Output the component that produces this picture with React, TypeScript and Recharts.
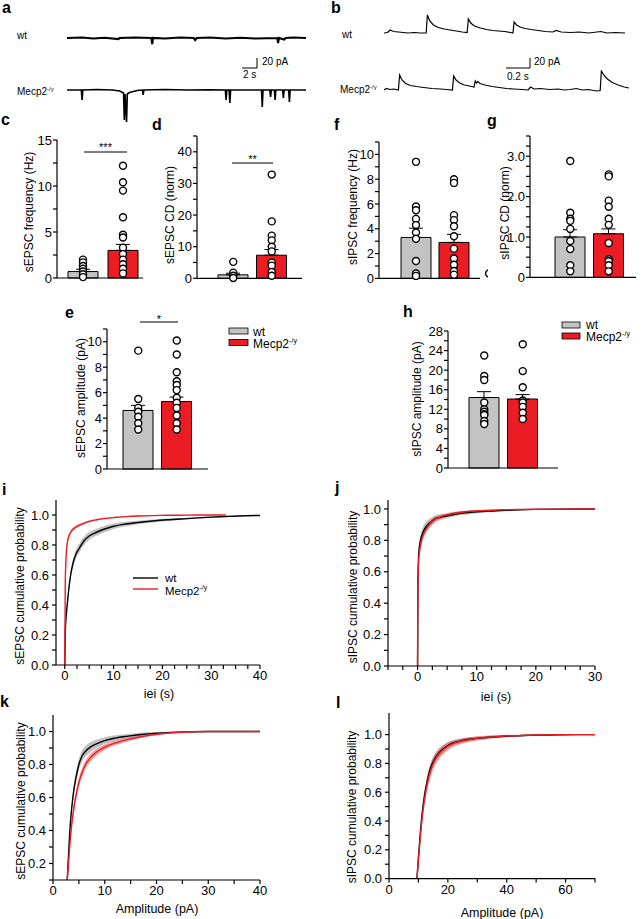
import React from "react";
import {
  Area,
  Bar,
  Cell,
  ComposedChart,
  ErrorBar,
  Line,
  LineChart,
  ReferenceDot,
  Scatter,
  XAxis,
  YAxis,
} from "recharts";

const FONT = '"Liberation Sans", Arial, Helvetica, sans-serif';
const RED = "#ec1c24";
const GREY = "#c3c3c3";

// ---- example traces: [time (s), current (pA)]
const traceAWt: [number, number][] = [
  [0, 0], [2, 1], [3.5, -1], [5, 0.5], [6.8, -2], [7, 0], [9, 1], [11.2, 0], [11.3, -12], [11.4, 0],
  [13, -1], [15, 1], [16.8, 0], [17, -4], [17.2, 0], [19, 1], [21, -1], [23, 0.5], [25, -1],
  [27.9, 0], [28, -10], [28.1, 0], [28.8, -3], [29, 0], [30, 1], [31.7, 0],
];
const traceAMecp2: [number, number][] = [
  [0, 0], [1.9, 0], [2.0, -20], [2.1, 0], [4, 1], [6, 0], [7.0, -2], [7.5, -6], [7.6, -60], [7.7, -8],
  [7.9, -64], [8.0, -8], [8.3, -5], [8.8, -3], [9.3, -1], [10, 0], [10.1, -10], [10.2, 0], [13, 1],
  [16, 0], [19, 0.5], [21.0, 0], [21.1, -20], [21.2, 0], [21.5, 0], [21.6, -26], [21.7, 0], [25.8, 0],
  [25.9, -34], [26.0, 0], [26.9, 0], [27.0, -14], [27.1, 0], [27.5, 0], [27.6, -20], [27.7, 0],
  [28.6, 0], [28.7, -16], [28.8, 0], [29.4, 0], [29.5, -24], [29.6, 0], [31.7, 0],
];
const traceBWt: [number, number][] = [
  [0, 0], [0.03, 1], [0.05, 6], [0.08, 3], [0.12, 2], [0.16, 1], [0.2, 0], [0.25, 1], [0.3, 0], [0.35, 0],
  [0.36, 36], [0.38, 24], [0.41, 16], [0.45, 11], [0.5, 8], [0.55, 6], [0.6, 4], [0.65, 2], [0.69, 1],
  [0.7, 28], [0.72, 20], [0.75, 14], [0.8, 10], [0.85, 7], [0.9, 5], [0.95, 4], [1.0, 3], [1.05, 1],
  [1.07, 0], [1.08, 22], [1.1, 16], [1.13, 12], [1.17, 9], [1.22, 7], [1.28, 5], [1.34, 3], [1.4, 2],
  [1.43, 5], [1.47, 2], [1.55, 1], [1.62, 2], [1.7, 0], [1.8, 3], [1.85, 0], [1.92, 1], [2.0, 0],
];
const traceBMecp2: [number, number][] = [
  [0, 0], [0.02, 3], [0.05, 1], [0.08, 2], [0.12, 0], [0.13, 30], [0.15, 20], [0.18, 13], [0.22, 9],
  [0.27, 7], [0.33, 5], [0.4, 3], [0.47, 2], [0.52, 1], [0.57, 0], [0.58, 28], [0.6, 20], [0.63, 14],
  [0.67, 10], [0.71, 8], [0.75, 6], [0.76, 18], [0.77, 14], [0.78, 17], [0.8, 13], [0.84, 10], [0.9, 7],
  [0.96, 5], [1.02, 3], [1.08, 2], [1.15, 1], [1.2, 0], [1.22, 6], [1.25, 2], [1.3, 3], [1.38, 1],
  [1.45, 2], [1.5, 0], [1.55, 1], [1.6, 3], [1.65, 0], [1.7, 1], [1.77, -2], [1.8, -1], [1.81, 38],
  [1.83, 30], [1.86, 22], [1.9, 15], [1.95, 10], [2.0, 6], [2.04, 4],
];

// ---- bar panels (mean, sem, single cells)
const groups = ["wt", "Mecp2"];
const cMean = [0.7, 3.0];
const cSem = [0.25, 0.65];
const cWt = [2.0, 1.7, 1.3, 1.0, 0.7, 0.4, 0.1];
const cMecp2 = [12.2, 10.4, 9.5, 6.6, 4.7, 4.4, 3.3, 2.6, 2.0, 1.5, 1.0, 0.5];

const dMean = [1.1, 7.3];
const dSem = [0.5, 1.8];
const dWt = [5.2, 1.8, 0.8, 0.1];
const dMecp2 = [32.8, 18, 13.5, 12, 10, 8.5, 5, 4, 2, 0.8];

const eMean = [4.6, 5.3];
const eSem = [0.4, 0.35];
const eWt = [9.3, 5.5, 4.8, 4.5, 4.1, 3.6, 3.1];
const eMecp2 = [10.1, 9.0, 7.6, 6.9, 6.6, 6.2, 5.6, 5.2, 4.8, 4.2, 3.6, 3.1];

const fMean = [3.3, 2.9];
const fSem = [0.75, 0.65];
const fWt = [9.4, 5.8, 5.5, 4.8, 4.3, 3.7, 3.2, 1.4, 0.4, 0.2];
const fMecp2 = [8.0, 7.7, 5.1, 4.7, 4.2, 3.4, 2.4, 1.6, 1.1, 0.6, 0.3];
const fStray = { x: 1.09, y: 0.4 };

const gMean = [1.0, 1.08];
const gSem = [0.18, 0.12];
const gWt = [2.88, 1.6, 1.45, 1.4, 1.2, 0.9, 0.7, 0.3, 0.15];
const gMecp2 = [2.55, 2.5, 1.9, 1.75, 1.45, 1.3, 0.85, 0.45, 0.4, 0.3, 0.15];

const hMean = [14.4, 14.1];
const hSem = [1.2, 0.9];
const hWt = [23, 18.8, 18, 13.4, 12, 11.5, 11, 10.8, 9.6, 9];
const hMecp2 = [25.3, 19.8, 16.5, 13.8, 13.4, 12.5, 11.3, 10];

// ---- cumulative distributions
const iT = [0, 0.1, 0.3, 0.5, 0.8, 1.2, 1.7, 2.3, 3, 4, 5, 6.5, 8, 10, 12.5, 15, 18, 21, 25, 29, 33, 37, 40];
const iWt = [0, 0.22, 0.33, 0.4, 0.5, 0.6, 0.68, 0.74, 0.78, 0.83, 0.86, 0.885, 0.905, 0.925, 0.94, 0.95, 0.96, 0.968, 0.976, 0.984, 0.99, 0.995, 0.997];
const iWtSem = [0, 0.01, 0.02, 0.025, 0.03, 0.03, 0.03, 0.03, 0.03, 0.028, 0.026, 0.024, 0.022, 0.018, 0.015, 0.012, 0.01, 0.008, 0.006, 0.004, 0.003, 0.002, 0.002];
const iMecp2 = [0, 0.55, 0.74, 0.81, 0.855, 0.885, 0.905, 0.92, 0.932, 0.946, 0.957, 0.968, 0.976, 0.983, 0.989, 0.993, 0.996, 0.998, 0.999, 1.0, 1.0, null, null];
const iMecp2Sem = [0, 0.01, 0.015, 0.015, 0.013, 0.012, 0.011, 0.01, 0.009, 0.008, 0.007, 0.006, 0.005, 0.004, 0.003, 0.003, 0.002, 0.002, 0.001, 0.001, 0.001, null, null];

const jT = [0, 0.05, 0.2, 0.5, 0.9, 1.5, 2.2, 3, 4, 5.5, 7, 9, 11.5, 14, 17, 20, 24, 27, 30];
const jWt = [0, 0.5, 0.72, 0.8, 0.85, 0.89, 0.915, 0.938, 0.948, 0.96, 0.97, 0.978, 0.985, 0.99, 0.994, 0.997, 0.999, 1.0, 1.0];
const jWtSem = [0, 0.02, 0.03, 0.035, 0.035, 0.03, 0.027, 0.022, 0.018, 0.015, 0.012, 0.01, 0.008, 0.006, 0.005, 0.004, 0.003, 0.002, 0.001];
const jMecp2 = [0, 0.45, 0.68, 0.77, 0.83, 0.875, 0.91, 0.935, 0.952, 0.967, 0.977, 0.985, 0.99, 0.994, 0.997, 0.998, 0.999, 1.0, 1.0];
const jMecp2Sem = [0, 0.02, 0.03, 0.032, 0.028, 0.024, 0.02, 0.015, 0.012, 0.01, 0.008, 0.006, 0.005, 0.004, 0.003, 0.002, 0.002, 0.001, 0.001];

const kA = [2.75, 3.0, 3.3, 3.6, 4.0, 4.5, 5.0, 5.6, 6.3, 7.2, 8.4, 10, 12, 14.5, 17, 20, 23, 26, 30, 35, 40];
const kWt = [0.1, 0.25, 0.42, 0.53, 0.64, 0.73, 0.8, 0.85, 0.88, 0.905, 0.925, 0.945, 0.96, 0.972, 0.982, 0.99, 0.995, 0.998, 1.0, 1.0, 1.0];
const kWtSem = [0, 0.01, 0.02, 0.025, 0.03, 0.035, 0.035, 0.035, 0.033, 0.03, 0.025, 0.02, 0.017, 0.013, 0.01, 0.007, 0.005, 0.003, 0.002, 0.001, 0.001];
const kMecp2 = [0.1, 0.2, 0.33, 0.43, 0.53, 0.62, 0.69, 0.75, 0.8, 0.84, 0.875, 0.905, 0.93, 0.952, 0.968, 0.983, 0.992, 0.997, 1.0, 1.0, 1.0];
const kMecp2Sem = [0, 0.01, 0.02, 0.025, 0.03, 0.03, 0.03, 0.028, 0.026, 0.024, 0.02, 0.017, 0.014, 0.011, 0.008, 0.006, 0.004, 0.002, 0.001, 0.001, 0.001];

const lA = [9.5, 10, 10.7, 11.3, 12, 13, 14, 15.5, 17, 19, 21, 24, 28, 33, 38, 44, 50, 57, 64, 70];
const lWt = [0, 0.15, 0.33, 0.46, 0.57, 0.68, 0.76, 0.83, 0.875, 0.91, 0.935, 0.955, 0.97, 0.98, 0.987, 0.992, 0.996, 0.998, 1.0, 1.0];
const lWtSem = [0, 0.01, 0.02, 0.025, 0.03, 0.035, 0.035, 0.035, 0.03, 0.025, 0.02, 0.017, 0.013, 0.01, 0.008, 0.006, 0.004, 0.002, 0.001, 0];
const lMecp2 = [0, 0.13, 0.3, 0.43, 0.54, 0.66, 0.74, 0.82, 0.865, 0.905, 0.93, 0.952, 0.968, 0.98, 0.988, 0.993, 0.997, 0.999, 1.0, 1.0];
const lMecp2Sem = [0, 0.015, 0.025, 0.035, 0.04, 0.045, 0.045, 0.04, 0.035, 0.03, 0.025, 0.02, 0.016, 0.012, 0.009, 0.006, 0.004, 0.002, 0.001, 0];

// ---- layout helpers
type Box = { x0: number; x1: number; y0: number; y1: number };
const ML = 44;
const MR = 8;
const MT = 6;
const MB = 26;
const margin = { top: MT, right: MR, bottom: 0, left: 0 };
const axisLine = { stroke: "#000", strokeWidth: 1.2 };
const tickText = { fill: "#000", fontSize: 13, fontFamily: FONT };

function place(b: Box) {
  return {
    style: { position: "absolute", left: b.x0 - ML, top: b.y0 - MT } as React.CSSProperties,
    width: b.x1 - b.x0 + ML + MR,
    height: b.y1 - b.y0 + MT + MB,
  };
}

function Trace({ pts, box, tMax, yDom, w }: { pts: [number, number][]; box: Box; tMax: number; yDom: [number, number]; w: number }) {
  const data = pts.map(([t, v]) => ({ t, v }));
  return (
    <div style={{ position: "absolute", left: box.x0, top: box.y0 }}>
      <LineChart width={box.x1 - box.x0} height={box.y1 - box.y0} data={data} margin={{ top: 0, right: 0, bottom: 0, left: 0 }}>
        <XAxis dataKey="t" type="number" domain={[0, tMax]} hide />
        <YAxis type="number" domain={yDom} hide />
        <Line type="linear" dataKey="v" stroke="#000" strokeWidth={w} dot={false} isAnimationActive={false} />
      </LineChart>
    </div>
  );
}

type BarProps = {
  box: Box;
  domain: [number, number];
  ticks: number[];
  fmt: (v: number) => string;
  mean: number[];
  sem: number[];
  wt: number[];
  mecp2: number[];
  pad: { left: number; right: number };
  stray?: { x: number; y: number };
};

const dotShape = (p: any) => <circle cx={p.cx} cy={p.cy} r={3.5} fill="#fff" stroke="#000" strokeWidth={1.4} />;

function BarPanel(p: BarProps) {
  const rows = groups.map((g, i) => ({ g, m: p.mean[i], e: [0, p.sem[i]] }));
  const dots = [...p.wt.map((v) => ({ g: "wt", v })), ...p.mecp2.map((v) => ({ g: "Mecp2", v }))];
  const pl = place(p.box);
  return (
    <div style={pl.style}>
      <ComposedChart width={pl.width} height={pl.height} data={rows} margin={margin}>
        <XAxis xAxisId="c" dataKey="g" type="category" allowDuplicatedCategory={false} tick={false} tickLine={false} axisLine={axisLine} padding={p.pad} height={MB} />
        {p.stray && <XAxis xAxisId="s" type="number" domain={[0, 1]} hide />}
        <YAxis type="number" domain={p.domain} ticks={p.ticks} interval={0} tickFormatter={p.fmt} width={ML} tickSize={4} tickMargin={1} tick={tickText} axisLine={axisLine} tickLine={axisLine} />
        <Bar xAxisId="c" dataKey="m" barSize={30} stroke="#000" strokeWidth={1} isAnimationActive={false}>
          {rows.map((r) => (
            <Cell key={r.g} fill={r.g === "wt" ? GREY : RED} />
          ))}
          <ErrorBar dataKey="e" width={7} stroke="#000" strokeWidth={1} />
        </Bar>
        <Scatter xAxisId="c" data={dots} dataKey="v" shape={dotShape} isAnimationActive={false} />
        {p.stray && (
          <ReferenceDot xAxisId="s" x={p.stray.x} y={p.stray.y} r={3.5} fill="#fff" stroke="#000" strokeWidth={1.4} ifOverflow="visible" />
        )}
      </ComposedChart>
    </div>
  );
}

type CdfProps = {
  box: Box;
  xDomain: [number, number];
  xTicks: number[];
  xLabels: number[];
  yDomain: [number, number];
  yTicks: number[];
  x: number[];
  wt: number[];
  wtSem: number[];
  mecp2: (number | null)[];
  mecp2Sem: (number | null)[];
};

function CdfPanel(p: CdfProps) {
  const lo = p.yDomain[0];
  const rows = p.x.map((x, i) => {
    const r = p.mecp2[i];
    const rs = p.mecp2Sem[i];
    return {
      x,
      wt: p.wt[i],
      wtBand: [Math.max(lo, p.wt[i] - p.wtSem[i]), Math.min(1, p.wt[i] + p.wtSem[i])],
      red: r,
      redBand: r == null || rs == null ? null : [Math.max(lo, r - rs), Math.min(1, r + rs)],
    };
  });
  const pl = place(p.box);
  return (
    <div style={pl.style}>
      <ComposedChart width={pl.width} height={pl.height} data={rows} margin={margin}>
        <XAxis
          dataKey="x"
          type="number"
          domain={p.xDomain}
          ticks={p.xTicks}
          interval={0}
          tickFormatter={(v: number) => (p.xLabels.includes(v) ? String(v) : "")}
          height={MB}
          tickSize={4}
          tickMargin={2}
          tick={tickText}
          axisLine={axisLine}
          tickLine={axisLine}
        />
        <YAxis
          type="number"
          domain={p.yDomain}
          ticks={p.yTicks}
          interval={0}
          tickFormatter={(v: number) => (Math.round(v * 10) % 2 === 0 ? v.toFixed(1) : "")}
          width={ML}
          tickSize={4}
          tickMargin={3}
          tick={tickText}
          axisLine={axisLine}
          tickLine={axisLine}
        />
        <Area type="monotone" dataKey="wtBand" stroke="none" fill="#8e8e8e" fillOpacity={0.55} isAnimationActive={false} />
        <Area type="monotone" dataKey="redBand" stroke="none" fill="#f04848" fillOpacity={0.5} isAnimationActive={false} />
        <Line type="monotone" dataKey="wt" stroke="#000" strokeWidth={1.4} dot={false} isAnimationActive={false} />
        <Line type="monotone" dataKey="red" stroke={RED} strokeWidth={1.4} dot={false} isAnimationActive={false} />
      </ComposedChart>
    </div>
  );
}

const step = (a: number, b: number, s: number) => {
  const out: number[] = [];
  for (let v = a; v <= b + 1e-9; v += s) out.push(Math.round(v * 1000) / 1000);
  return out;
};

function VTitle({ x, y, text }: { x: number; y: number; text: string }) {
  return (
    <text transform={`translate(${x},${y}) rotate(-90)`} textAnchor="middle" fontSize={12}>
      {text}
    </text>
  );
}

function Mecp2Text({ x, y, size }: { x: number; y: number; size: number }) {
  return (
    <text x={x} y={y} fontSize={size}>
      Mecp2
      <tspan fontSize={size * 0.6} dy={-size * 0.4}>
        -/y
      </tspan>
    </text>
  );
}

function Overlay() {
  return (
    <svg width={644} height={919} fontFamily={FONT} style={{ position: "absolute", left: 0, top: 0, pointerEvents: "none" }}>
      <g fontSize={16} fontWeight="bold">
        <text x={2} y={13}>a</text>
        <text x={331} y={13}>b</text>
        <text x={1} y={125}>c</text>
        <text x={152} y={130}>d</text>
        <text x={334} y={130}>f</text>
        <text x={487} y={126}>g</text>
        <text x={65} y={318}>e</text>
        <text x={403} y={317}>h</text>
        <text x={2} y={495}>i</text>
        <text x={335} y={493}>j</text>
        <text x={0} y={707}>k</text>
        <text x={336} y={708}>l</text>
      </g>

      {/* trace labels and scale bars */}
      <text x={17} y={39} fontSize={10}>wt</text>
      <Mecp2Text x={17} y={95} size={10} />
      <path d="M242,68 H257 V58" fill="none" stroke="#000" strokeWidth={1} />
      <text x={262} y={65} fontSize={10}>20 pA</text>
      <text x={243} y={78} fontSize={10}>2 s</text>

      <text x={342} y={38} fontSize={10}>wt</text>
      <Mecp2Text x={340} y={93} size={10} />
      <path d="M506,68 H530 V58" fill="none" stroke="#000" strokeWidth={1} />
      <text x={534} y={65} fontSize={10}>20 pA</text>
      <text x={507} y={80} fontSize={10}>0.2 s</text>

      {/* significance */}
      <line x1={84} x2={127} y1={152} y2={152} stroke="#000" strokeWidth={1} />
      <text x={105.5} y={151} fontSize={11} textAnchor="middle">***</text>
      <line x1={232} x2={273} y1={163} y2={163} stroke="#000" strokeWidth={1} />
      <text x={252.5} y={163} fontSize={11} textAnchor="middle">**</text>
      <line x1={140} x2={178} y1={322} y2={322} stroke="#000" strokeWidth={1} />
      <text x={159} y={323} fontSize={11} textAnchor="middle">*</text>

      {/* bar legends */}
      <rect x={229} y={328} width={19} height={6} fill={GREY} stroke="#000" strokeWidth={0.8} />
      <rect x={229} y={339.5} width={19} height={6} fill={RED} stroke="#000" strokeWidth={0.8} />
      <text x={253} y={335.5} fontSize={12}>wt</text>
      <Mecp2Text x={253} y={348} size={12} />
      <rect x={562} y={322} width={18} height={6} fill={GREY} stroke="#000" strokeWidth={0.8} />
      <rect x={562} y={333} width={18} height={6} fill={RED} stroke="#000" strokeWidth={0.8} />
      <text x={586} y={328.5} fontSize={12}>wt</text>
      <Mecp2Text x={586} y={341} size={12} />

      {/* cdf legend */}
      <line x1={133} x2={158} y1={578} y2={578} stroke="#000" strokeWidth={1.4} />
      <line x1={133} x2={158} y1={589} y2={589} stroke={RED} strokeWidth={1.4} />
      <text x={165} y={581.5} fontSize={11.5}>wt</text>
      <Mecp2Text x={165} y={595} size={11.5} />

      {/* axis titles */}
      <VTitle x={33} y={212} text="sEPSC frequency (Hz)" />
      <VTitle x={174} y={215} text="sEPSC CD (norm)" />
      <VTitle x={357} y={207} text="sIPSC frequency (Hz)" />
      <VTitle x={509} y={213} text="sIPSC CD (norm)" />
      <VTitle x={85} y={398} text="sEPSC amplitude (pA)" />
      <VTitle x={421} y={399} text="sIPSC amplitude (pA)" />
      <VTitle x={24} y={586} text="sEPSC cumulative probability" />
      <VTitle x={357} y={587} text="sIPSC cumulative probability" />
      <VTitle x={25} y={801} text="sEPSC cumulative probability" />
      <VTitle x={356} y={807} text="sIPSC cumulative probability" />
      <text x={159} y={698} fontSize={12.5} textAnchor="middle">iei (s)</text>
      <text x={496} y={701} fontSize={12.5} textAnchor="middle">iei (s)</text>
      <text x={157} y={913} fontSize={12.5} textAnchor="middle">Amplitude (pA)</text>
      <text x={502} y={917} fontSize={12.5} textAnchor="middle">Amplitude (pA)</text>
    </svg>
  );
}

export default function App() {
  return (
    <div style={{ position: "absolute", left: 0, top: 0, width: 644, height: 919, background: "#fff", fontFamily: FONT }}>
      <Trace pts={traceAWt} box={{ x0: 67, x1: 306, y0: 32.7, y1: 47.7 }} tMax={31.7} yDom={[-20, 10]} w={2.2} />
      <Trace pts={traceAMecp2} box={{ x0: 67, x1: 306, y0: 85, y1: 125 }} tMax={31.7} yDom={[-70, 10]} w={1.6} />
      <Trace pts={traceBWt} box={{ x0: 384, x1: 625, y0: 13, y1: 35.5 }} tMax={2.0} yDom={[-5, 40]} w={1.2} />
      <Trace pts={traceBMecp2} box={{ x0: 384, x1: 629, y0: 70, y1: 92.5 }} tMax={2.04} yDom={[-5, 40]} w={1.2} />

      <BarPanel box={{ x0: 57, x1: 143, y0: 140, y1: 278 }} domain={[0, 15]} ticks={step(0, 15, 2.5)} fmt={(v) => (v % 5 === 0 ? String(v) : "")} mean={cMean} sem={cSem} wt={cWt} mecp2={cMecp2} pad={{ left: 6, right: 0 }} />
      <BarPanel box={{ x0: 197, x1: 302, y0: 136, y1: 278.3 }} domain={[0, 45]} ticks={step(0, 45, 5)} fmt={(v) => (v % 10 === 0 ? String(v) : "")} mean={dMean} sem={dSem} wt={dWt} mecp2={dMecp2} pad={{ left: 17, right: 11 }} />
      <BarPanel box={{ x0: 379, x1: 480, y0: 141.6, y1: 278 }} domain={[0, 11]} ticks={step(0, 11, 1)} fmt={(v) => (v % 2 === 0 ? String(v) : "")} mean={fMean} sem={fSem} wt={fWt} mecp2={fMecp2} pad={{ left: 18, right: 7 }} stray={fStray} />
      <BarPanel box={{ x0: 530, x1: 636, y0: 136.3, y1: 277.7 }} domain={[0, 3.5]} ticks={step(0, 3.5, 0.25)} fmt={(v) => (v === 0 ? "0" : Number.isInteger(v) ? v.toFixed(1) : "")} mean={gMean} sem={gSem} wt={gWt} mecp2={gMecp2} pad={{ left: 21, right: 8 }} />
      <BarPanel box={{ x0: 107, x1: 208, y0: 329, y1: 469 }} domain={[0, 11]} ticks={step(0, 11, 1)} fmt={(v) => (v % 2 === 0 ? String(v) : "")} mean={eMean} sem={eSem} wt={eWt} mecp2={eMecp2} pad={{ left: 12, right: 12 }} />
      <BarPanel box={{ x0: 448, x1: 558, y0: 331, y1: 468 }} domain={[0, 28]} ticks={step(0, 28, 2)} fmt={(v) => (v % 4 === 0 ? String(v) : "")} mean={hMean} sem={hSem} wt={hWt} mecp2={hMecp2} pad={{ left: 17, right: 16 }} />

      <CdfPanel box={{ x0: 56, x1: 260, y0: 500, y1: 665 }} xDomain={[-1.8, 40]} xTicks={step(0, 40, 2.5)} xLabels={[0, 10, 20, 30, 40]} yDomain={[0, 1.1]} yTicks={step(0, 1, 0.1)} x={iT} wt={iWt} wtSem={iWtSem} mecp2={iMecp2} mecp2Sem={iMecp2Sem} />
      <CdfPanel box={{ x0: 388, x1: 595, y0: 500, y1: 666 }} xDomain={[-5, 30]} xTicks={step(-5, 30, 2.5)} xLabels={[0, 10, 20, 30]} yDomain={[0, 1.057]} yTicks={step(0, 1, 0.1)} x={jT} wt={jWt} wtSem={jWtSem} mecp2={jMecp2} mecp2Sem={jMecp2Sem} />
      <CdfPanel box={{ x0: 53, x1: 260, y0: 714.5, y1: 879.5 }} xDomain={[0, 40]} xTicks={step(0, 40, 5)} xLabels={[0, 10, 20, 30, 40]} yDomain={[0.1, 1.1]} yTicks={step(0.1, 1, 0.1)} x={kA} wt={kWt} wtSem={kWtSem} mecp2={kMecp2} mecp2Sem={kMecp2Sem} />
      <CdfPanel box={{ x0: 389, x1: 595, y0: 713.4, y1: 879 }} xDomain={[0, 70]} xTicks={step(0, 70, 10)} xLabels={[0, 20, 40, 60]} yDomain={[0, 1.15]} yTicks={step(0, 1, 0.1)} x={lA} wt={lWt} wtSem={lWtSem} mecp2={lMecp2} mecp2Sem={lMecp2Sem} />

      <Overlay />
    </div>
  );
}
